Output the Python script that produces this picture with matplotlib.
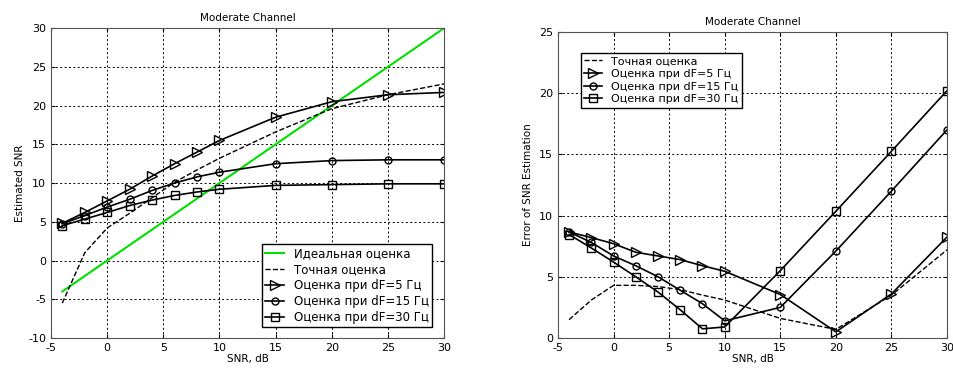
import numpy as np
import matplotlib.pyplot as plt

# SNR points, dB
snr = [-4, -2, 0, 2, 4, 6, 8, 10, 15, 20, 25, 30]

# left plot: estimated SNR
ideal_x = [-4, 30]
ideal_y = [-4, 30]
exact_est = [-5.5, 1.0, 4.2, 6.1, 8.1, 10.1, 11.7, 13.2, 16.6, 19.6, 21.4, 22.8]
df5_est = [4.8, 6.2, 7.7, 9.2, 10.9, 12.5, 14.0, 15.5, 18.5, 20.5, 21.4, 21.7]
df15_est = [4.75, 5.8, 6.9, 7.9, 9.05, 10.0, 10.8, 11.4, 12.5, 12.9, 13.0, 13.0]
df30_est = [4.5, 5.35, 6.2, 7.1, 7.8, 8.4, 8.85, 9.2, 9.7, 9.8, 9.9, 9.9]

# right plot: error of SNR estimation
exact_err = [1.5, 3.1, 4.3, 4.3, 4.2, 3.95, 3.5, 3.1, 1.6, 0.7, 3.5, 7.2]
df5_err = [8.66, 8.2, 7.7, 7.0, 6.7, 6.4, 5.9, 5.45, 3.55, 0.5, 3.6, 8.25]
df15_err = [8.66, 7.8, 6.7, 5.9, 5.0, 3.9, 2.8, 1.4, 2.5, 7.1, 12.0, 17.0]
df30_err = [8.45, 7.35, 6.2, 5.0, 3.75, 2.3, 0.75, 0.9, 5.5, 10.35, 15.25, 20.2]

labels = ['Идеальная оценка', 'Точная оценка', 'Оценка при dF=5 Гц',
          'Оценка при dF=15 Гц', 'Оценка при dF=30 Гц']

plt.rcParams['font.family'] = ['DejaVu Sans']
plt.rcParams['font.size'] = 7.5
plt.rcParams['axes.unicode_minus'] = False

fig = plt.figure(figsize=(9.54, 3.72), dpi=100)
ax1 = fig.add_axes([0.0535, 0.0914, 0.412, 0.833])
ax2 = fig.add_axes([0.5849, 0.0914, 0.4078, 0.823])

lw = 1.2
mk = dict(color='black', markerfacecolor='none', markeredgecolor='black', lw=lw, mew=1.0)

# --- left
ax1.plot(ideal_x, ideal_y, color='#00e000', lw=1.5, label=labels[0])
ax1.plot(snr, exact_est, 'k--', lw=1.0, label=labels[1])
ax1.plot(snr, df5_est, marker='>', ms=7, label=labels[2], **mk)
ax1.plot(snr, df15_est, marker='o', ms=5, label=labels[3], **mk)
ax1.plot(snr, df30_est, marker='s', ms=6, label=labels[4], **mk)
ax1.set_xlim(-5, 30)
ax1.set_ylim(-10, 30)
ax1.set_yticks(np.arange(-10, 31, 5))
ax1.set_ylabel('Estimated SNR', labelpad=2)
ax1.legend(loc='lower right', fancybox=False, edgecolor='black', framealpha=1,
           handlelength=1.6, borderpad=0.3, labelspacing=0.25, fontsize=8.5,
           bbox_to_anchor=(0.985, 0.015))

# --- right
ax2.plot(snr, exact_err, 'k--', lw=1.0, label=labels[1])
ax2.plot(snr, df5_err, marker='>', ms=7, label=labels[2], **mk)
ax2.plot(snr, df15_err, marker='o', ms=5, label=labels[3], **mk)
ax2.plot(snr, df30_err, marker='s', ms=6, label=labels[4], **mk)
ax2.set_xlim(-5, 30)
ax2.set_ylim(0, 25)
ax2.set_yticks(np.arange(0, 26, 5))
ax2.set_ylabel('Error of SNR Estimation', labelpad=4)
ax2.legend(loc='upper left', fancybox=False, edgecolor='black', framealpha=1,
           handlelength=1.6, borderpad=0.3, labelspacing=0.25, fontsize=8,
           bbox_to_anchor=(0.045, 0.95))

for ax in (ax1, ax2):
    ax.set_xticks(np.arange(-5, 31, 5))
    ax.set_xlabel('SNR, dB', labelpad=1)
    ax.set_title('Moderate Channel', fontsize=7.5, pad=5)
    ax.grid(True, color='black', linestyle=(0, (2, 2.5)), lw=0.7)
    ax.tick_params(direction='in', length=3, top=True, right=True, labelsize=8)
    for s in ax.spines.values():
        s.set_color('#555555')

fig.savefig('out.png', dpi=100)
